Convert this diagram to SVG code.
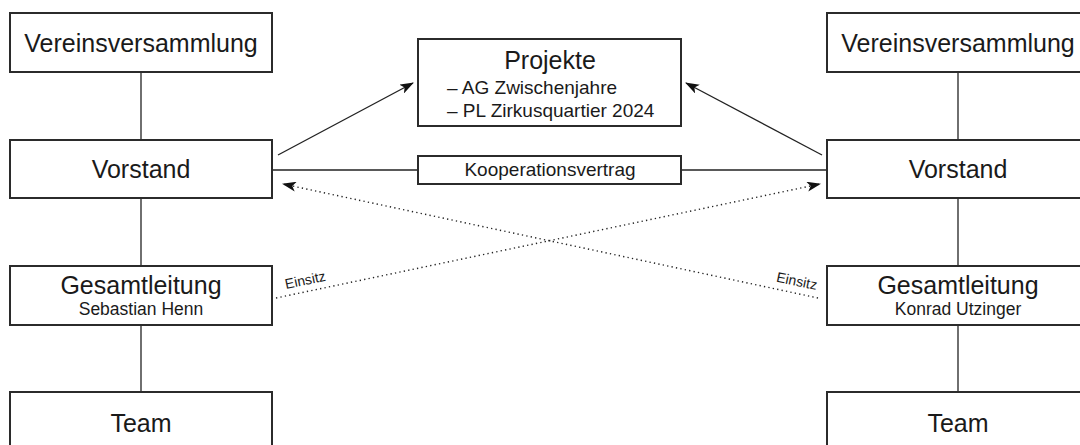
<svg xmlns="http://www.w3.org/2000/svg" width="1080" height="445" viewBox="0 0 1080 445">
<style>
.box{fill:#fff;stroke:#2b2b2b;stroke-width:2}
.lbl{font-family:"Liberation Sans",Arial,sans-serif;font-size:25px;fill:#1a1a1a;text-anchor:middle}
.sub{font-family:"Liberation Sans",Arial,sans-serif;font-size:17.5px;fill:#1a1a1a;text-anchor:middle}
.lst{font-family:"Liberation Sans",Arial,sans-serif;font-size:19px;fill:#1a1a1a}
.ein{font-family:"Liberation Sans",Arial,sans-serif;font-size:14px;fill:#1a1a1a}
.ln{stroke:#222;stroke-width:1.3;fill:none}
.dot{stroke:#222;stroke-width:1.4;fill:none;stroke-dasharray:1.3 3.2}
</style>
<defs>
<marker id="ah" viewBox="0 0 14 10" refX="13" refY="5" markerWidth="14" markerHeight="10" markerUnits="userSpaceOnUse" orient="auto">
<path d="M0,0 L14,5 L0,10 L3.5,5 Z" fill="#111"/>
</marker>
</defs>
<rect width="1080" height="445" fill="#fff"/>
<g id="connectors">
<line class="ln" x1="141" y1="72" x2="141" y2="140"/>
<line class="ln" x1="141" y1="198" x2="141" y2="266"/>
<line class="ln" x1="141" y1="325" x2="141" y2="392"/>
<line class="ln" x1="958" y1="72" x2="958" y2="140"/>
<line class="ln" x1="958" y1="198" x2="958" y2="266"/>
<line class="ln" x1="958" y1="325" x2="958" y2="392"/>
<line class="ln" x1="272" y1="170" x2="418" y2="170"/>
<line class="ln" x1="681" y1="170" x2="827" y2="170"/>
<line class="ln" x1="278" y1="155" x2="413" y2="83" marker-end="url(#ah)"/>
<line class="ln" x1="822" y1="155" x2="686" y2="83" marker-end="url(#ah)"/>
<line class="dot" x1="276" y1="298" x2="820" y2="184" marker-end="url(#ah)"/>
<line class="dot" x1="818" y1="298" x2="283" y2="184" marker-end="url(#ah)"/>
<text class="ein" transform="translate(286,289) rotate(-11.7)">Einsitz</text>
<text class="ein" text-anchor="end" transform="translate(816,290) rotate(11.9)">Einsitz</text>
</g>
<g id="vv-left"><rect class="box" x="10" y="13" width="262" height="59"/><text class="lbl" x="141" y="51.5">Vereinsversammlung</text></g>
<g id="vorstand-left"><rect class="box" x="10" y="140" width="262" height="58"/><text class="lbl" x="141" y="178">Vorstand</text></g>
<g id="gl-left"><rect class="box" x="10" y="266" width="262" height="59"/><text class="lbl" x="141" y="294">Gesamtleitung</text><text class="sub" x="141" y="315">Sebastian Henn</text></g>
<g id="team-left"><rect class="box" x="10" y="392" width="262" height="60"/><text class="lbl" x="141" y="431.5">Team</text></g>
<g id="vv-right"><rect class="box" x="827" y="13" width="262" height="59"/><text class="lbl" x="958" y="51.5">Vereinsversammlung</text></g>
<g id="vorstand-right"><rect class="box" x="827" y="140" width="262" height="58"/><text class="lbl" x="958" y="178">Vorstand</text></g>
<g id="gl-right"><rect class="box" x="827" y="266" width="262" height="59"/><text class="lbl" x="958" y="294">Gesamtleitung</text><text class="sub" x="958" y="315">Konrad Utzinger</text></g>
<g id="team-right"><rect class="box" x="827" y="392" width="262" height="60"/><text class="lbl" x="958" y="431.5">Team</text></g>
<g id="projekte"><rect class="box" x="418" y="39" width="263" height="87"/><text class="lbl" x="550" y="69">Projekte</text><text class="lst" x="447" y="94">– AG Zwischenjahre</text><text class="lst" x="447" y="117">– PL Zirkusquartier 2024</text></g>
<g id="kooperation"><rect class="box" x="418" y="156" width="263" height="28"/><text class="sub" x="550" y="176" style="font-size:19px">Kooperationsvertrag</text></g>
</svg>
